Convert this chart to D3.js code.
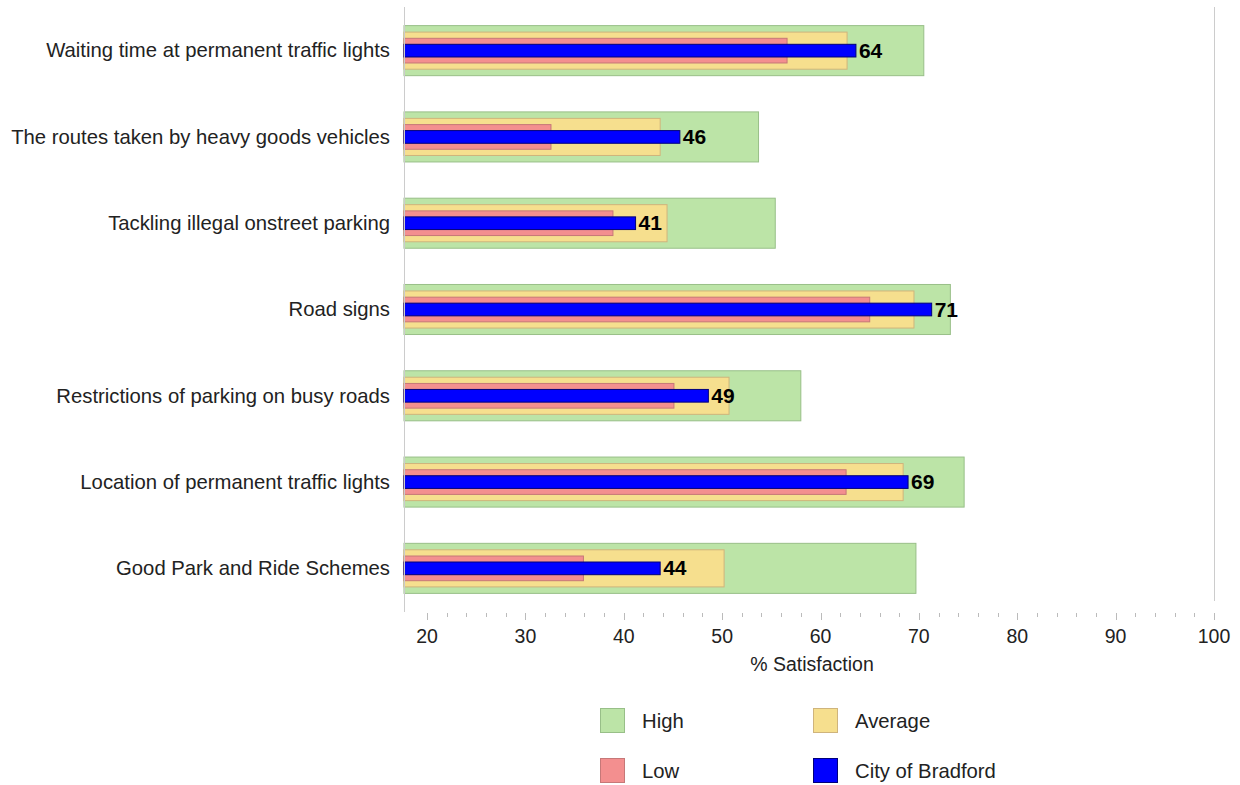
<!DOCTYPE html>
<html><head><meta charset="utf-8">
<script src="https://cdn.jsdelivr.net/npm/d3@7"></script>
<style>
body{margin:0;background:#fff;}
text{font-family:"Liberation Sans",Arial,sans-serif;}
</style></head>
<body><svg id="chart" width="1240" height="785"></svg>
<script>
const categories = ["Waiting time at permanent traffic lights","The routes taken by heavy goods vehicles","Tackling illegal onstreet parking","Road signs","Restrictions of parking on busy roads","Location of permanent traffic lights","Good Park and Ride Schemes"];
const high    = [70.5, 53.7, 55.4, 73.2, 58.0, 74.6, 69.7];
const average = [62.7, 43.7, 44.4, 69.5, 50.7, 68.4, 50.2];
const low     = [56.6, 32.6, 38.9, 65.0, 45.1, 62.6, 35.9];
const bradford= [63.6, 45.7, 41.2, 71.3, 48.6, 68.9, 43.7];
const bradfordLabels = ["64","46","41","71","49","69","44"];
const majorTicks = [20,30,40,50,60,70,80,90,100];
const xTitle = "% Satisfaction";
const legendItems = ["High","Average","Low","City of Bradford"];

const svg = d3.select("#chart");
const L=404, R=1214, T=7, B=611;
const x = d3.scaleLinear().domain([17.66,100]).range([L,R]);
const y = d3.scaleBand().domain(categories).range([T,B]).padding(0);
const bw = y.bandwidth();

const series = [
  {name:"High", vals:high, frac:0.58, fill:"#bce4a7", stroke:"#98bf88"},
  {name:"Average", vals:average, frac:0.43, fill:"#f6df8e", stroke:"#cfb47c"},
  {name:"Low", vals:low, frac:0.286, fill:"#f38f8f", stroke:"#c67878"},
  {name:"City of Bradford", vals:bradford, frac:0.147, fill:"#0000ff", stroke:"#00007a"}
];

svg.append("line").attr("x1",R+0.5).attr("x2",R+0.5).attr("y1",T).attr("y2",B-10).attr("stroke","#cccccc");

series.forEach(s=>{
  svg.append("g").selectAll("rect").data(categories).join("rect")
    .attr("x", L)
    .attr("y", (d)=> y(d)+bw/2 - s.frac*bw/2 + 0.5)
    .attr("width", (d,i)=> x(s.vals[i]) - L)
    .attr("height", s.frac*bw)
    .attr("fill", s.fill).attr("stroke", s.stroke).attr("stroke-width",1);
});

svg.append("g").selectAll("text").data(categories).join("text")
  .attr("x",(d,i)=>x(bradford[i])+3)
  .attr("y",(d)=>y(d)+bw/2)
  .attr("dy","0.36em")
  .attr("font-size","21px").attr("font-weight","bold").attr("fill","#000")
  .text((d,i)=>bradfordLabels[i]);

svg.append("g").selectAll("text").data(categories).join("text")
  .attr("x",390).attr("y",(d)=>y(d)+bw/2).attr("dy","0.36em")
  .attr("text-anchor","end").attr("font-size","20.3px").attr("fill","#222")
  .text(d=>d);

svg.append("line").attr("x1",L+0.5).attr("x2",L+0.5).attr("y1",T).attr("y2",B+1).attr("stroke","#cccccc");

const minor = d3.range(22,100,2).filter(v=>v%10!==0);
const ax = svg.append("g").attr("transform",`translate(0,${B+2})`);
ax.selectAll("line.minor").data(minor).join("line").attr("class","minor")
  .attr("x1",d=>Math.round(x(d))+0.5).attr("x2",d=>Math.round(x(d))+0.5).attr("y1",0).attr("y2",4).attr("stroke","#bbbbbb");
ax.selectAll("line.major").data(majorTicks).join("line").attr("class","major")
  .attr("x1",d=>Math.round(x(d))+0.5).attr("x2",d=>Math.round(x(d))+0.5).attr("y1",0).attr("y2",7).attr("stroke","#bbbbbb");
ax.selectAll("text").data(majorTicks).join("text")
  .attr("x",d=>x(d)).attr("y",30).attr("text-anchor","middle")
  .attr("font-size","19.5px").attr("fill","#222").text(d=>d);

svg.append("text").attr("x",(L+R)/2+3).attr("y",671).attr("text-anchor","middle")
  .attr("font-size","19.5px").attr("fill","#222").text(xTitle);

const legPos = [[600,708],[813,708],[600,758],[813,758]];
legendItems.forEach((name,i)=>{
  const s = series.find(z=>z.name===name);
  const g = svg.append("g").attr("transform",`translate(${legPos[i][0]},${legPos[i][1]})`);
  g.append("rect").attr("x",0.5).attr("y",0.5).attr("width",24).attr("height",24).attr("fill",s.fill).attr("stroke",s.stroke);
  g.append("text").attr("x",42).attr("y",13).attr("dy","0.36em").attr("font-size","20.3px").attr("fill","#222").text(name);
});
</script></body></html>
